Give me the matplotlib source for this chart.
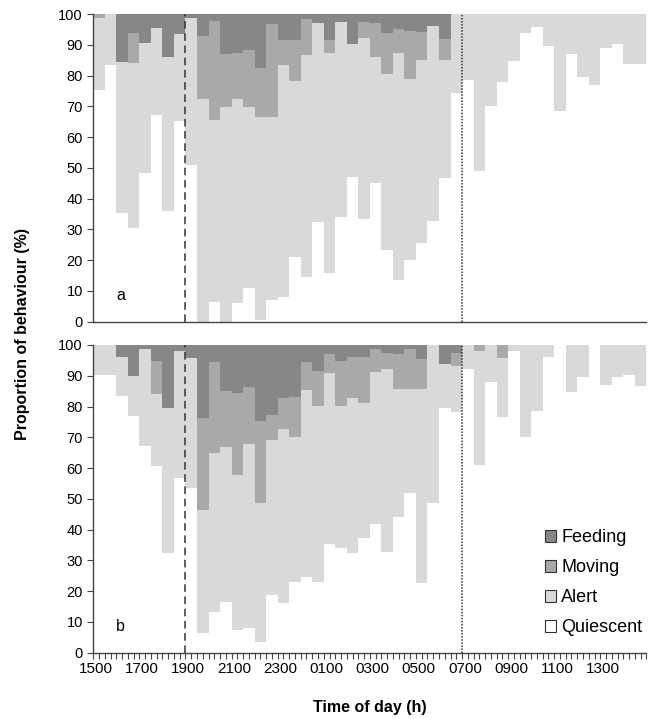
import numpy as np
import matplotlib
matplotlib.use("Agg")
import matplotlib.pyplot as plt
from matplotlib.patches import Patch

plt.rcParams['font.family'] = ['Liberation Sans', 'DejaVu Sans']

# half-hour bins starting at 1500 (hours after 1500)
bin_start = np.arange(0, 24, 0.5)
tick_labels = ["1500", "1700", "1900", "2100", "2300", "0100",
               "0300", "0500", "0700", "0900", "1100", "1300"]

# panel a (% of each behaviour per bin)
a_quiescent = [75.3, 83.4, 35.2, 30.3, 48.4, 67.2, 36.0, 65.3, 50.9, 0, 6.5, 0,
               6.0, 10.8, 0.5, 7.0, 8.1, 21.1, 14.6, 32.5, 15.7, 34.1, 47.1, 33.3,
               45.0, 23.3, 13.5, 20.0, 25.5, 32.8, 46.6, 74.4, 78.5, 49.1, 70.1, 78.0,
               84.8, 93.7, 95.9, 89.6, 68.6, 87.0, 79.6, 76.9, 88.8, 90.2, 83.7, 83.7]
a_alert = [23.3, 16.6, 49.3, 53.7, 42.1, 28.1, 49.9, 28.1, 47.7, 72.4, 59.0, 69.7,
           66.5, 59.1, 66.1, 59.6, 75.3, 57.1, 72.1, 64.7, 71.5, 63.4, 43.1, 58.8,
           41.1, 57.2, 73.7, 58.9, 59.5, 63.3, 38.4, 25.6, 21.5, 50.9, 29.9, 22.0,
           15.2, 6.3, 4.1, 10.4, 31.4, 13.0, 20.4, 23.1, 11.2, 9.8, 16.3, 16.3]
a_moving = [1.4, 0, 0, 9.7, 0, 0, 0, 0, 0, 20.4, 32.3, 17.3,
            14.7, 18.4, 15.7, 30.1, 8.1, 13.3, 11.6, 0, 4.3, 0, 0, 5.4,
            11.1, 13.2, 7.8, 15.7, 9.3, 0, 6.8, 0, 0, 0, 0, 0,
            0, 0, 0, 0, 0, 0, 0, 0, 0, 0, 0, 0]
a_feeding = [0, 0, 15.5, 6.3, 9.5, 4.7, 14.1, 6.6, 1.4, 7.2, 2.2, 13.0,
             12.8, 11.7, 17.7, 3.3, 8.5, 8.5, 1.7, 2.8, 8.5, 2.5, 9.8, 2.5,
             2.8, 6.3, 5.0, 5.4, 5.7, 3.9, 8.2, 0, 0, 0, 0, 0,
             0, 0, 0, 0, 0, 0, 0, 0, 0, 0, 0, 0]

# panel b
b_quiescent = [90.2, 90.2, 83.5, 76.9, 67.2, 60.7, 32.3, 56.9, 53.4, 6.3, 13.3, 16.6,
               7.4, 8.1, 3.6, 18.7, 16.0, 23.1, 24.7, 22.9, 35.2, 33.9, 32.3, 37.2,
               41.8, 32.8, 44.2, 52.0, 22.5, 48.5, 79.6, 78.3, 92.1, 61.0, 88.1, 76.5,
               98.2, 70.0, 78.6, 96.0, 100, 84.6, 89.7, 100, 87.0, 89.5, 90.2, 86.7]
b_alert = [9.8, 9.8, 12.5, 13.0, 31.5, 23.4, 47.3, 41.3, 42.5, 40.1, 51.5, 50.1,
           50.3, 59.7, 45.2, 50.4, 56.6, 46.9, 60.7, 57.3, 55.6, 46.3, 50.4, 43.8,
           49.5, 59.3, 41.4, 33.6, 63.1, 51.5, 14.2, 14.9, 7.9, 37.2, 11.9, 19.2,
           1.8, 30.0, 21.4, 4.0, 0, 15.4, 10.3, 0, 13.0, 10.5, 9.8, 13.3]
b_moving = [0, 0, 0, 0, 0, 10.8, 0, 0, 0, 29.8, 29.8, 18.5,
            26.6, 18.7, 26.6, 8.1, 10.1, 13.2, 9.0, 11.5, 6.3, 14.7, 13.5, 15.0,
            7.3, 5.4, 11.5, 13.0, 9.7, 0, 0, 4.1, 0, 1.8, 0, 4.3,
            0, 0, 0, 0, 0, 0, 0, 0, 0, 0, 0, 0]
b_feeding = [0, 0, 4.0, 10.1, 1.3, 5.1, 20.4, 1.8, 4.1, 23.8, 5.4, 14.8,
             15.7, 13.5, 24.6, 22.8, 17.3, 16.8, 5.6, 8.3, 2.9, 5.1, 3.8, 4.0,
             1.4, 2.5, 2.9, 1.4, 4.7, 0, 6.2, 2.7, 0, 0, 0, 0,
             0, 0, 0, 0, 0, 0, 0, 0, 0, 0, 0, 0]

colors = {"Feeding": "#878787", "Moving": "#a9a9a9",
          "Alert": "#d9d9d9", "Quiescent": "#ffffff"}


def draw_panel(ax, quiescent, alert, moving, feeding, letter, show_ticks):
    bottom = np.zeros(len(bin_start))
    for name, vals in [("Quiescent", quiescent), ("Alert", alert),
                       ("Moving", moving), ("Feeding", feeding)]:
        vals = np.array(vals, dtype=float)
        ax.bar(bin_start, vals, width=0.5, bottom=bottom, align='edge',
               color=colors[name], linewidth=0)
        bottom += vals
    ax.axvline(4, color='#333333', linestyle=(0, (5, 3)), linewidth=1.1)
    ax.axvline(16, color='#333333', linestyle=(0, (1, 1)), linewidth=1.1)
    ax.set_xlim(0, 24)
    ax.set_ylim(0, 100)
    ax.set_yticks(np.arange(0, 101, 10))
    ax.tick_params(axis='y', direction='out', length=4, width=0.8,
                   labelsize=10.5, colors='#444444', labelcolor='black')
    for s in ['top', 'right']:
        ax.spines[s].set_visible(False)
    for s in ['left', 'bottom']:
        ax.spines[s].set_color('#444444')
        ax.spines[s].set_linewidth(1.0)
    ax.text(1.0, 7, letter, fontsize=11.5)
    if show_ticks:
        ax.set_xticks(np.arange(0, 24.01, 0.25), minor=True)
        ax.set_xticks(np.arange(0, 24, 2) + 0.125)
        ax.set_xticklabels(tick_labels)
        ax.tick_params(axis='x', which='major', length=0, labelsize=11, pad=7)
        ax.tick_params(axis='x', which='minor', direction='out', length=4,
                       width=0.8, colors='#444444')
    else:
        ax.set_xticks([])


fig = plt.figure(figsize=(6.48, 7.19), dpi=100)
ax_a = fig.add_axes([0.144, 0.5526, 0.8535, 0.4279])
ax_b = fig.add_axes([0.144, 0.0922, 0.8535, 0.4280])

draw_panel(ax_a, a_quiescent, a_alert, a_moving, a_feeding, "a", False)
draw_panel(ax_b, b_quiescent, b_alert, b_moving, b_feeding, "b", True)

handles = [Patch(facecolor=colors[n], edgecolor='#333333', linewidth=0.8, label=n)
           for n in ["Feeding", "Moving", "Alert", "Quiescent"]]
ax_b.legend(handles=handles, loc='lower right', bbox_to_anchor=(1.022, 0.0),
            frameon=False, fontsize=13, handlelength=0.6, handleheight=0.6,
            handletextpad=0.3, labelspacing=0.72)

fig.text(0.034, 0.535, "Proportion of behaviour (%)", rotation=90,
         fontsize=11.5, fontweight='bold', ha='center', va='center')
fig.text(0.571, 0.016, "Time of day (h)", fontsize=11.5, fontweight='bold',
         ha='center', va='center')

fig.savefig("out.png", dpi=100)
